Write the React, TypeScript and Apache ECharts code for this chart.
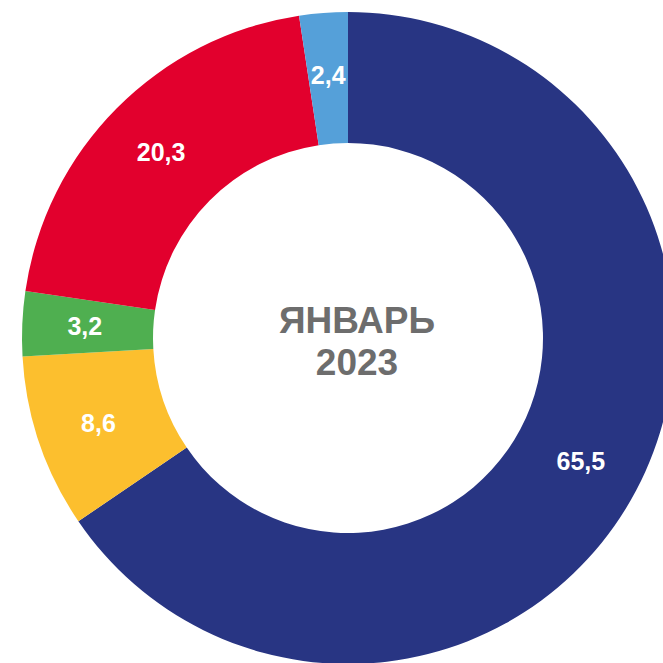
import React, { useEffect, useRef } from "react";
import * as echarts from "echarts";

const categories = ["A", "B", "C", "D", "E"];
const values = [65.5, 8.6, 3.2, 20.3, 2.4];
const colors = ["#283583", "#FCBF2E", "#4FAF50", "#E2002D", "#55A0D9"];
const centerTitle = ["ЯНВАРЬ", "2023"];

export default function App() {
  const ref = useRef<HTMLDivElement>(null);
  useEffect(() => {
    if (!ref.current) return;
    const chart = echarts.init(ref.current, null, { renderer: "svg" });
    chart.setOption({
      animation: false,
      backgroundColor: "#ffffff",
      graphic: [
        {
          type: "text",
          x: 357,
          y: 320,
          style: {
            text: centerTitle[0],
            textAlign: "center",
            textVerticalAlign: "middle",
            fill: "#6d6d6d",
            font: "bold 37px 'Liberation Sans', Arial, sans-serif",
          },
          z: 10,
        },
        {
          type: "text",
          x: 357,
          y: 362,
          style: {
            text: centerTitle[1],
            textAlign: "center",
            textVerticalAlign: "middle",
            fill: "#6d6d6d",
            font: "bold 37px 'Liberation Sans', Arial, sans-serif",
          },
          z: 10,
        },
      ],
      series: [
        {
          type: "pie",
          center: [348, 338],
          radius: [195, 326],
          startAngle: 90,
          clockwise: true,
          avoidLabelOverlap: false,
          label: {
            show: true,
            position: "inside",
            color: "#ffffff",
            fontSize: 25,
            fontWeight: "bold",
            fontFamily: "'Liberation Sans', Arial, sans-serif",
            formatter: (p: any) => String(p.value).replace(".", ","),
          },
          labelLine: { show: false },
          itemStyle: { borderWidth: 0 },
          data: categories.map((c, i) => ({
            name: c,
            value: values[i],
            itemStyle: { color: colors[i] },
          })),
        },
      ],
    });
    return () => chart.dispose();
  }, []);
  return (
    <div
      ref={ref}
      style={{ position: "fixed", left: 0, top: 0, width: 663, height: 663 }}
    />
  );
}
